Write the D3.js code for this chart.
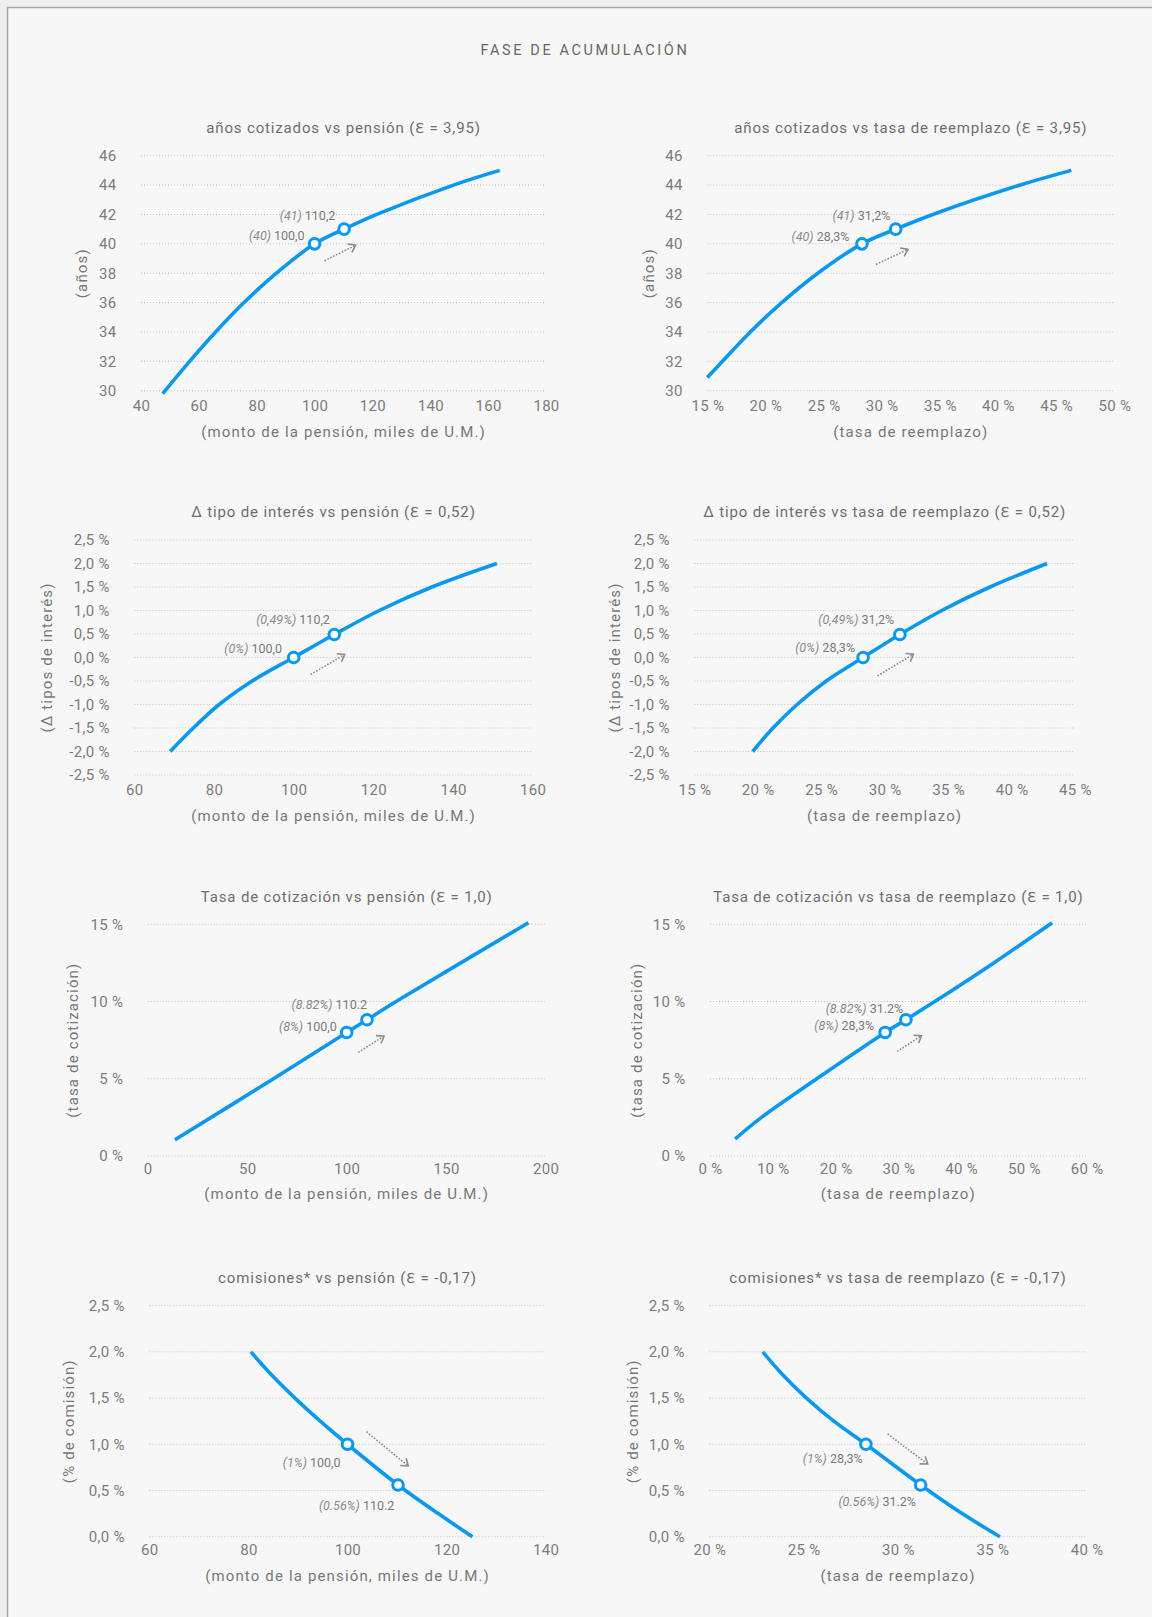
<!DOCTYPE html>
<html><head><meta charset="utf-8">
<script src="https://cdn.jsdelivr.net/npm/d3@7"></script>
<style>
html,body{margin:0;padding:0;background:#eeeeee;}
svg{display:block;}
text{font-family:Roboto,"Noto Sans",sans-serif;fill:#777;}
</style></head>
<body>
<svg id="c" width="1152" height="1617"></svg>
<script>
// ---------------- DATA ----------------
const mainTitle = "FASE DE ACUMULACIÓN";

// 1: años cotizados vs pensión
const c1X = [47.5, 56.8, 65.8, 75.6, 86.8, 100, 110.2, 121.5, 148, 164];
const c1Y = [29.8, 32, 34, 36, 38, 40, 41, 42, 44, 45];
const c1MarkX = [100, 110.2], c1MarkY = [40, 41];
const c1Labels = [["(40)", "100,0"], ["(41)", "110,2"]];
const c1XTicks = [40, 60, 80, 100, 120, 140, 160, 180];
const c1YTicks = [30, 32, 34, 36, 38, 40, 42, 44, 46];

// 2: años cotizados vs tasa de reemplazo
const c2X = [15.0, 16.3, 18.7, 21.4, 24.5, 28.3, 31.2, 34.4, 41.9, 46.3];
const c2Y = [30.9, 32, 34, 36, 38, 40, 41, 42, 44, 45];
const c2MarkX = [28.3, 31.2], c2MarkY = [40, 41];
const c2Labels = [["(40)", "28,3%"], ["(41)", "31,2%"]];
const c2XTicks = [15, 20, 25, 30, 35, 40, 45, 50];
const c2YTicks = [30, 32, 34, 36, 38, 40, 42, 44, 46];

// 3: Δ tipo de interés vs pensión
const c3X = [69, 74.8, 81.3, 89.6, 100, 110.2, 121.5, 134.7, 151];
const c3Y = [-2, -1.5, -1, -0.5, 0, 0.49, 1, 1.5, 2];
const c3MarkX = [100, 110.2], c3MarkY = [0, 0.49];
const c3Labels = [["(0%)", "100,0"], ["(0,49%)", "110,2"]];
const c3XTicks = [60, 80, 100, 120, 140, 160];
const c3YTicks = [-2.5, -2, -1.5, -1, -0.5, 0, 0.5, 1, 1.5, 2, 2.5];

// 4: Δ tipo de interés vs tasa de reemplazo
const c4X = [19.6, 21.2, 23.1, 25.4, 28.3, 31.2, 34.5, 38.3, 42.8];
const c4Y = [-2, -1.5, -1, -0.5, 0, 0.49, 1, 1.5, 2];
const c4MarkX = [28.3, 31.2], c4MarkY = [0, 0.49];
const c4Labels = [["(0%)", "28,3%"], ["(0,49%)", "31,2%"]];
const c4XTicks = [15, 20, 25, 30, 35, 40, 45];
const c4YTicks = [-2.5, -2, -1.5, -1, -0.5, 0, 0.5, 1, 1.5, 2, 2.5];

// 5: Tasa de cotización vs pensión
const c5X = [13.7, 63.2, 100, 110.2, 124.8, 191.3];
const c5Y = [1.05, 5, 8, 8.82, 10, 15.1];
const c5MarkX = [100, 110.2], c5MarkY = [8, 8.82];
const c5Labels = [["(8%)", "100,0"], ["(8.82%)", "110.2"]];
const c5XTicks = [0, 50, 100, 150, 200];
const c5YTicks = [0, 5, 10, 15];

// 6: Tasa de cotización vs tasa de reemplazo
const c6X = [4.0, 8.2, 17.0, 27.9, 31.2, 35.8, 45.2, 54.5];
const c6Y = [1.1, 2.5, 5, 8, 8.82, 10, 12.5, 15.1];
const c6MarkX = [27.9, 31.2], c6MarkY = [8, 8.82];
const c6Labels = [["(8%)", "28,3%"], ["(8.82%)", "31.2%"]];
const c6XTicks = [0, 10, 20, 30, 40, 50, 60];
const c6YTicks = [0, 5, 10, 15];

// 7: comisiones vs pensión
const c7X = [80.5, 84.7, 89.4, 94.5, 100, 110.2, 118.3, 125.2];
const c7Y = [2, 1.75, 1.5, 1.25, 1, 0.56, 0.25, 0];
const c7MarkX = [100, 110.2], c7MarkY = [1, 0.56];
const c7Labels = [["(1%)", "100,0"], ["(0.56%)", "110.2"]];
const c7XTicks = [60, 80, 100, 120, 140];
const c7YTicks = [0, 0.5, 1, 1.5, 2, 2.5];

// 8: comisiones vs tasa de reemplazo
const c8X = [22.83, 23.9, 25.15, 26.6, 28.3, 31.2, 33.4, 35.4];
const c8Y = [2, 1.75, 1.5, 1.25, 1, 0.56, 0.25, 0];
const c8MarkX = [28.3, 31.2], c8MarkY = [1, 0.56];
const c8Labels = [["(1%)", "28,3%"], ["(0.56%)", "31.2%"]];
const c8XTicks = [20, 25, 30, 35, 40];
const c8YTicks = [0, 0.5, 1, 1.5, 2, 2.5];

// ---------------- FORMATS ----------------
const loc = d3.formatLocale({decimal: ",", thousands: ".", grouping: [3], currency: ["", ""], minus: "-"});
const f1 = loc.format(".1f");
const fInt = d => String(d);
const fPct = d => d + " %";
const fPct1 = d => f1(d) + " %";

const xPension = "(monto de la pensión, miles de U.M.)";
const xTasa = "(tasa de reemplazo)";

// ---------------- LAYOUT ----------------
const charts = [
  {title: "años cotizados vs pensión (Ɛ = 3,95)", xLab: xPension, yLab: "(años)",
   X: c1X, Y: c1Y, MX: c1MarkX, MY: c1MarkY, L: c1Labels, xt: c1XTicks, yt: c1YTicks, xf: fInt, yf: fInt,
   xd: [40, 180], yd: [30, 46], px: [141, 546], py: [390.7, 155.7], titleY: 128, xPad: 9.5, xTitleDy: 41, yTitleDx: -59,
   lo: [[-10, -9.3], [-8.7, -14.3]], ar: [[10, 17], [41, 1.4]]},
  {title: "años cotizados vs tasa de reemplazo (Ɛ = 3,95)", xLab: xTasa, yLab: "(años)",
   X: c2X, Y: c2Y, MX: c2MarkX, MY: c2MarkY, L: c2Labels, xt: c2XTicks, yt: c2YTicks, xf: fPct, yf: fInt,
   xd: [15, 50], yd: [30, 46], px: [707.3, 1114.3], py: [390.7, 155.7], titleY: 128, xPad: 9.5, xTitleDy: 41, yTitleDx: -58,
   lo: [[-12.6, -7.7], [-5.3, -14.3]], ar: [[14, 20.6], [46, 5.6]]},
  {title: "Δ tipo de interés vs pensión (Ɛ = 0,52)", xLab: xPension, yLab: "(Δ tipos de interés)",
   X: c3X, Y: c3Y, MX: c3MarkX, MY: c3MarkY, L: c3Labels, xt: c3XTicks, yt: c3YTicks, xf: fInt, yf: fPct1,
   xd: [60, 160], yd: [-2.5, 2.5], px: [134.3, 532.7], py: [775, 540], titleY: 511.7, xPad: 9.5, xTitleDy: 41, yTitleDx: -87,
   lo: [[-11.6, -9.3], [-4.4, -15.7]], ar: [[17, 17], [51, -3]]},
  {title: "Δ tipo de interés vs tasa de reemplazo (Ɛ = 0,52)", xLab: xTasa, yLab: "(Δ tipos de interés)",
   X: c4X, Y: c4Y, MX: c4MarkX, MY: c4MarkY, L: c4Labels, xt: c4XTicks, yt: c4YTicks, xf: fPct, yf: fPct1,
   xd: [15, 45], yd: [-2.5, 2.5], px: [694.3, 1075], py: [775, 540], titleY: 511.7, xPad: 9.5, xTitleDy: 41, yTitleDx: -79.5,
   lo: [[-8, -10.6], [-5.7, -15.3]], ar: [[14.4, 18.4], [50.4, -3.3]]},
  {title: "Tasa de cotización vs pensión (Ɛ = 1,0)", xLab: xPension, yLab: "(tasa de cotización)",
   X: c5X, Y: c5Y, MX: c5MarkX, MY: c5MarkY, L: c5Labels, xt: c5XTicks, yt: c5YTicks, xf: fInt, yf: fPct,
   xd: [0, 200], yd: [0, 15], px: [147.7, 545.7], py: [1156, 924.3], titleY: 896.7, xPad: 7, xTitleDy: 38.3, yTitleDx: -75,
   lo: [[-10, -6.6], [0, -16]], ar: [[11.6, 20], [37.3, 3.7]]},
  {title: "Tasa de cotización vs tasa de reemplazo (Ɛ = 1,0)", xLab: xTasa, yLab: "(tasa de cotización)",
   X: c6X, Y: c6Y, MX: c6MarkX, MY: c6MarkY, L: c6Labels, xt: c6XTicks, yt: c6YTicks, xf: fPct, yf: fPct,
   xd: [0, 60], yd: [0, 15], px: [710, 1086.7], py: [1156, 924.3], titleY: 896.7, xPad: 7, xTitleDy: 38.3, yTitleDx: -73,
   lo: [[-11, -7], [-2.7, -11.3]], ar: [[12, 19], [36.3, 3.3]]},
  {title: "comisiones* vs pensión (Ɛ = -0,17)", xLab: xPension, yLab: "(% de comisión)",
   X: c7X, Y: c7Y, MX: c7MarkX, MY: c7MarkY, L: c7Labels, xt: c7XTicks, yt: c7YTicks, xf: fInt, yf: fPct1,
   xd: [60, 140], yd: [0, 2.5], px: [149.3, 545.7], py: [1536.7, 1305.7], titleY: 1277.7, xPad: 8, xTitleDy: 39.3, yTitleDx: -80.5,
   lo: [[-7, 18], [-3.7, 19.7]], ar: [[19, -12.6], [60.7, 21.7]]},
  {title: "comisiones* vs tasa de reemplazo (Ɛ = -0,17)", xLab: xTasa, yLab: "(% de comisión)",
   X: c8X, Y: c8Y, MX: c8MarkX, MY: c8MarkY, L: c8Labels, xt: c8XTicks, yt: c8YTicks, xf: fPct, yf: fPct1,
   xd: [20, 40], yd: [0, 2.5], px: [709.3, 1086.7], py: [1536.7, 1305.7], titleY: 1277.7, xPad: 8, xTitleDy: 39.3, yTitleDx: -76.5,
   lo: [[-3.3, 13.4], [-4.7, 16.3]], ar: [[21.7, -10.3], [61.7, 19.7]]}
];

// ---------------- DRAW ----------------
const svg = d3.select("#c");
const BLUE = "#0898f2";

svg.append("rect").attr("x", 7.5).attr("y", 7.5).attr("width", 1170).attr("height", 1630)
  .attr("fill", "#f7f7f7").attr("stroke", "#a6a6a6").attr("stroke-width", 1.5);

svg.append("text").attr("x", 585).attr("y", 50).attr("text-anchor", "middle")
  .attr("dominant-baseline", "central").style("font-size", "14.5px").style("letter-spacing", "2.6px")
  .style("fill", "#666").text(mainTitle);

charts.forEach(c => {
  const x = d3.scaleLinear().domain(c.xd).range(c.px);
  const y = d3.scaleLinear().domain(c.yd).range(c.py);
  const g = svg.append("g");

  // gridlines
  g.selectAll("line.grid").data(c.yt).join("line").attr("class", "grid")
    .attr("x1", c.px[0]).attr("x2", c.px[1]).attr("y1", d => y(d)).attr("y2", d => y(d))
    .attr("stroke", "#c4c4c4").attr("stroke-width", 1).attr("stroke-dasharray", "1,2");

  // axes
  const ya = g.append("g").attr("transform", `translate(${c.px[0]},0)`)
    .call(d3.axisLeft(y).tickValues(c.yt).tickFormat(c.yf).tickSize(0).tickPadding(24.5));
  const xa = g.append("g").attr("transform", `translate(0,${c.py[0]})`)
    .call(d3.axisBottom(x).tickValues(c.xt).tickFormat(c.xf).tickSize(0).tickPadding(c.xPad));
  [ya, xa].forEach(a => {
    a.select(".domain").remove();
    a.attr("font-family", null).attr("font-size", null);
    a.selectAll("text").style("font-size", "15px").style("letter-spacing", "0.3px").style("fill", "#7c7c7c");
  });

  // titles
  const cx = (c.px[0] + c.px[1]) / 2;
  g.append("text").attr("x", cx).attr("y", c.titleY).attr("text-anchor", "middle")
    .attr("dominant-baseline", "central").style("font-size", "15px").style("letter-spacing", "0.85px")
    .style("fill", "#6e6e6e").text(c.title);
  g.append("text").attr("x", cx).attr("y", c.py[0] + c.xTitleDy).attr("text-anchor", "middle")
    .attr("dominant-baseline", "central").style("font-size", "15px").style("letter-spacing", "1.15px")
    .text(c.xLab);
  const cy = (c.py[0] + c.py[1]) / 2;
  g.append("text").attr("transform", `translate(${c.px[0] + c.yTitleDx},${cy}) rotate(-90)`)
    .attr("text-anchor", "middle").attr("dominant-baseline", "central")
    .style("font-size", "15px").style("letter-spacing", "1.15px").text(c.yLab);

  // curve
  const pts = c.X.map((d, i) => [d, c.Y[i]]);
  g.append("path").datum(pts)
    .attr("d", d3.line().x(d => x(d[0])).y(d => y(d[1])).curve(d3.curveCatmullRom.alpha(0.5)))
    .attr("fill", "none").attr("stroke", BLUE).attr("stroke-width", 3.6);

  const mk = c.MX.map((d, i) => [x(d), y(c.MY[i])]);

  // arrow
  const a0 = [mk[0][0] + c.ar[0][0], mk[0][1] + c.ar[0][1]];
  const a1 = [mk[0][0] + c.ar[1][0], mk[0][1] + c.ar[1][1]];
  g.append("line").attr("x1", a0[0]).attr("y1", a0[1]).attr("x2", a1[0]).attr("y2", a1[1])
    .attr("stroke", "#8c8c8c").attr("stroke-width", 1.6).attr("stroke-dasharray", "1.6,1.6");
  const ang = Math.atan2(a1[1] - a0[1], a1[0] - a0[0]);
  const hl = 8, ha = Math.PI / 5;
  const head = [
    [a1[0] - hl * Math.cos(ang - ha), a1[1] - hl * Math.sin(ang - ha)],
    a1,
    [a1[0] - hl * Math.cos(ang + ha), a1[1] - hl * Math.sin(ang + ha)]
  ];
  g.append("path").attr("d", d3.line()(head)).attr("fill", "none")
    .attr("stroke", "#8c8c8c").attr("stroke-width", 1.6);

  // markers
  g.selectAll("circle.m").data(mk).join("circle").attr("class", "m")
    .attr("cx", d => d[0]).attr("cy", d => d[1]).attr("r", 5.3)
    .attr("fill", "#fff").attr("stroke", BLUE).attr("stroke-width", 3);

  // labels
  c.L.forEach((lab, i) => {
    const t = g.append("text").attr("x", mk[i][0] + c.lo[i][0]).attr("y", mk[i][1] + c.lo[i][1])
      .attr("text-anchor", "end").attr("dominant-baseline", "central").style("font-size", "12.5px");
    t.append("tspan").style("font-style", "italic").style("fill", "#8a8a8a").text(lab[0] + " ");
    t.append("tspan").style("fill", "#7a7a7a").text(lab[1]);
  });
});
</script>
</body></html>
